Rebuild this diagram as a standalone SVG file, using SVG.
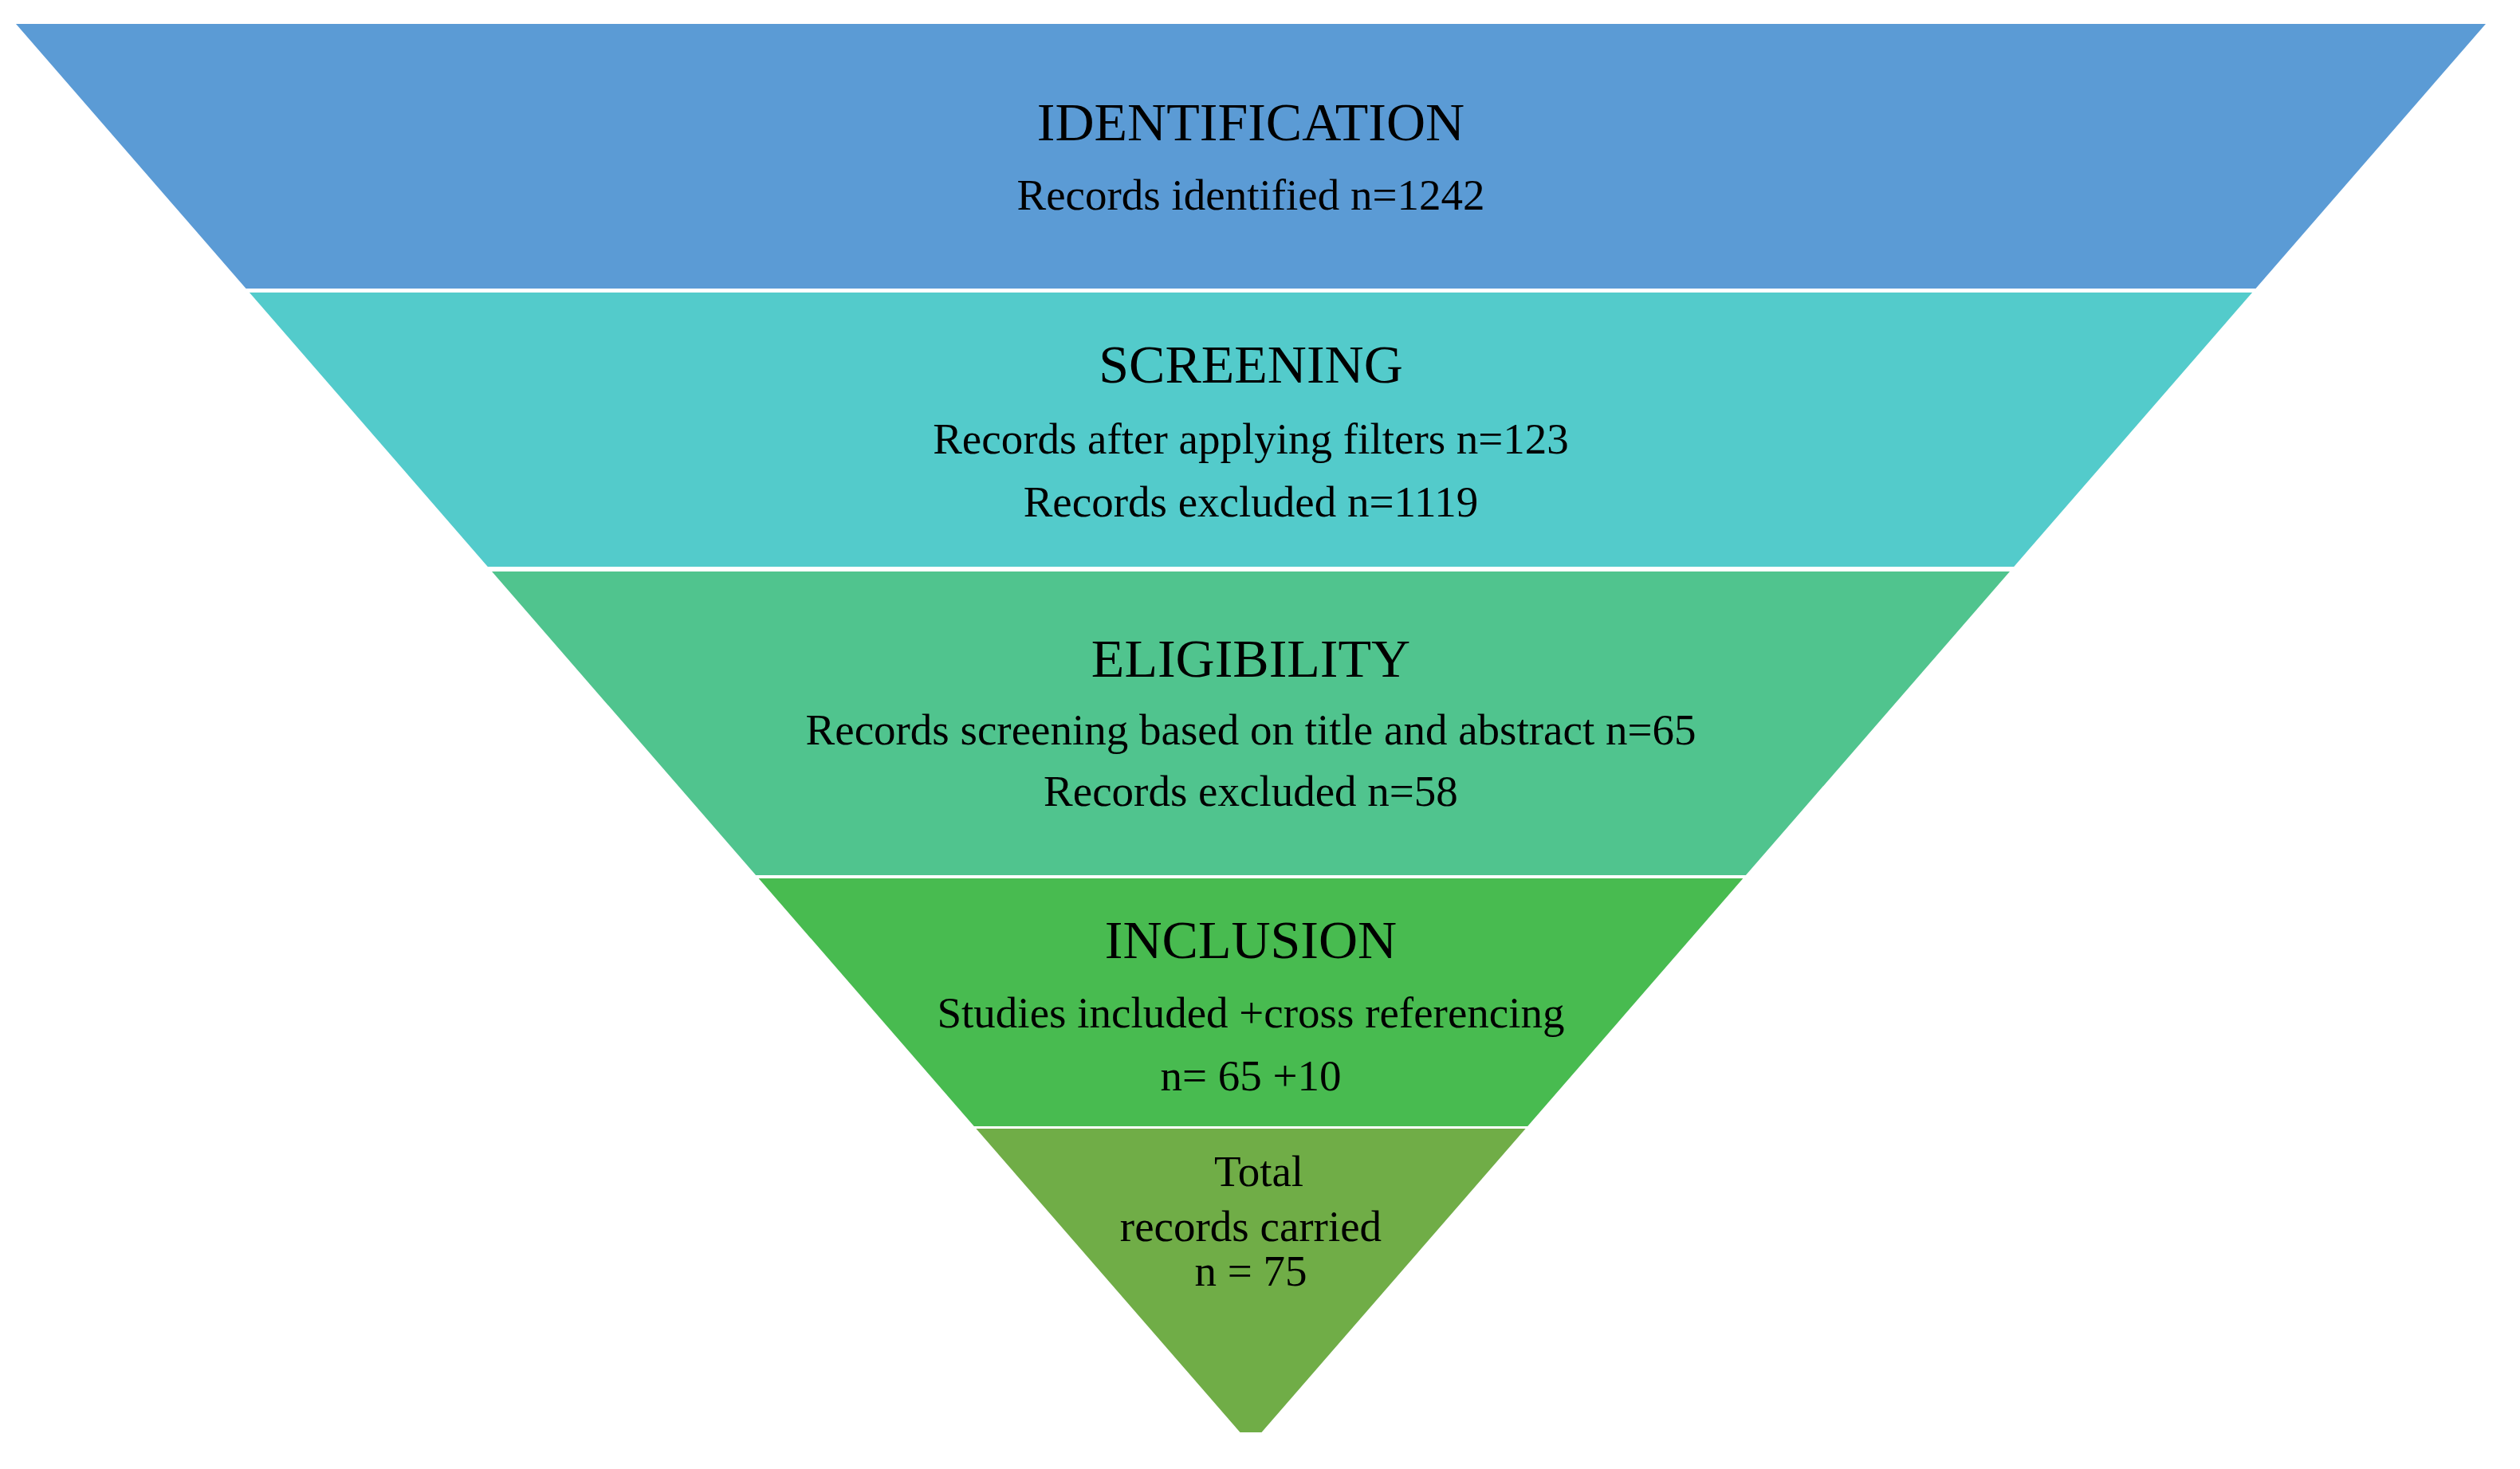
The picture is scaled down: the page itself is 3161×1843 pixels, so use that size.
<svg xmlns="http://www.w3.org/2000/svg" width="3161" height="1843" viewBox="0 0 3161 1843">
<style>
text { font-family: "Liberation Serif", "Times New Roman", serif; fill: #000; text-anchor: middle; }
.h { font-size: 68px; }
.b { font-size: 55px; }
</style>
<rect x="0" y="0" width="3161" height="1843" fill="#ffffff"/>
<g id="identification">
<polygon points="20,30 3118,30 2829.5,362 308.5,362" fill="#5B9BD5"/>
<text class="h" x="1569" y="176">IDENTIFICATION</text>
<text class="b" x="1569" y="263">Records identified n=1242</text>
</g>
<g id="screening">
<polygon points="312.9,367 2825.1,367 2526.2,711 611.8,711" fill="#53CBCB"/>
<text class="h" x="1569" y="480">SCREENING</text>
<text class="b" x="1569" y="569">Records after applying filters n=123</text>
<text class="b" x="1569" y="648">Records excluded n=1119</text>
</g>
<g id="eligibility">
<polygon points="617,717 2521,717 2189.9,1098 948.1,1098" fill="#50C48E"/>
<text class="h" x="1569" y="849">ELIGIBILITY</text>
<text class="b" x="1569" y="934">Records screening based on title and abstract n=65</text>
<text class="b" x="1569" y="1011">Records excluded n=58</text>
</g>
<g id="inclusion">
<polygon points="951.6,1102 2186.4,1102 1916.2,1413 1221.8,1413" fill="#48BB50"/>
<text class="h" x="1569" y="1202">INCLUSION</text>
<text class="b" x="1569" y="1289">Studies included +cross referencing</text>
<text class="b" x="1569" y="1368">n= 65 +10</text>
</g>
<g id="total">
<polygon points="1224.4,1416 1913.6,1416 1582.5,1797 1555.5,1797" fill="#70AD47"/>
<text class="b" x="1579" y="1488">Total</text>
<text class="b" x="1569" y="1557">records carried</text>
<text class="b" x="1569" y="1613">n = 75</text>
</g>
<g id="connectors"></g>
</svg>
